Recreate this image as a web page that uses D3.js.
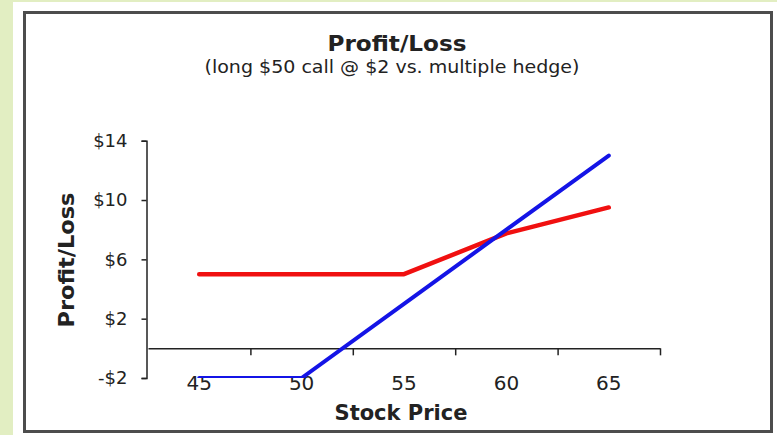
<!DOCTYPE html>
<html>
<head>
<meta charset="utf-8">
<script src="https://cdn.jsdelivr.net/npm/d3@7"></script>
<style>
  html, body { margin: 0; padding: 0; background: #e2eec2; }
  svg { display: block; }
  text { font-family: "DejaVu Sans", sans-serif; fill: #222; }
</style>
</head>
<body>
<svg id="grafica" width="777" height="435"></svg>
<script>
// categorías del eje X (precio de la acción)
const precios   = ["45", "50", "55", "60", "65"];
// long $50 call @ $2
const llamada   = [-2, -2, 3, 8, 13];
// cobertura múltiple
const cobertura = [5, 5, 5, 7.75, 9.5];
const ticksY    = [-2, 2, 6, 10, 14];

const svg = d3.select('#grafica');

// marco blanco con borde
svg.append('rect').attr('x', 13).attr('y', 2).attr('width', 764).attr('height', 433).attr('fill', '#fff');
svg.append('rect')
   .attr('x', 24.5).attr('y', 12.5).attr('width', 747).attr('height', 419)
   .attr('fill', '#fff').attr('stroke', '#4d4d4d').attr('stroke-width', 3);

const izq = 148, der = 660, arriba = 140.7, abajo = 378;

const x = d3.scaleBand().domain(precios).range([izq, der]).padding(0);
const y = d3.scaleLinear().domain([-2, 14]).range([abajo, arriba]);
const xc = d => x(d) + x.bandwidth() / 2;

// titulos
svg.append('text').attr('x', 397).attr('y', 51).attr('text-anchor', 'middle')
   .style('font-size', '21px').style('font-weight', 'bold')
   .attr('textLength', 139).attr('lengthAdjust', 'spacingAndGlyphs')
   .text('Profit/Loss');
svg.append('text').attr('x', 392).attr('y', 73).attr('text-anchor', 'middle')
   .style('font-size', '17px')
   .attr('textLength', 375).attr('lengthAdjust', 'spacingAndGlyphs')
   .text('(long $50 call @ $2 vs. multiple hedge)');

// eje Y
const ejeY = svg.append('g').attr('transform', `translate(${izq - 1.5},0)`)
  .call(d3.axisLeft(y).tickValues(ticksY).tickSize(5).tickPadding(14)
          .tickFormat(d => (d < 0 ? '-$' : '$') + Math.abs(d)));
ejeY.select('.domain').attr('stroke', '#222').attr('stroke-width', 1.5);
ejeY.selectAll('.tick line').attr('stroke', '#222').attr('stroke-width', 1.5);
ejeY.selectAll('text').style('font-size', '18px').attr('fill', '#333')
    .style('font-family', '"DejaVu Sans", sans-serif');

// eje X en cero: marcas en los límites de las categorías
const limites = d3.scaleLinear().domain([0, precios.length]).range([izq, der]);
const ejeX = svg.append('g').attr('transform', `translate(0,${y(0)})`)
  .call(d3.axisBottom(limites).tickValues(d3.range(1, precios.length + 1))
          .tickSize(7).tickSizeOuter(0).tickFormat(''));
ejeX.select('.domain').attr('stroke', '#222').attr('stroke-width', 1.5);
ejeX.selectAll('.tick line').attr('stroke', '#222').attr('stroke-width', 1.5);

// etiquetas de categoría abajo (Excel las pone en la posición baja)
const etiquetas = svg.append('g').attr('transform', `translate(0,${abajo})`)
  .call(d3.axisBottom(x).tickSize(0).tickPadding(-2));
etiquetas.select('.domain').remove();
etiquetas.selectAll('text').style('font-size', '20px').attr('fill', '#333')
    .style('font-family', '"DejaVu Sans", sans-serif');

// titulos de ejes
svg.append('text').attr('x', 401).attr('y', 420).attr('text-anchor', 'middle')
   .style('font-size', '22px').style('font-weight', 'bold')
   .attr('textLength', 133).attr('lengthAdjust', 'spacingAndGlyphs')
   .text('Stock Price');
svg.append('text').attr('transform', 'translate(74,260) rotate(-90)').attr('text-anchor', 'middle')
   .style('font-size', '22px').style('font-weight', 'bold')
   .attr('textLength', 135).attr('lengthAdjust', 'spacingAndGlyphs')
   .text('Profit/Loss');

// lineas recortadas al área de trazado
svg.append('clipPath').attr('id', 'area')
   .append('rect').attr('x', izq).attr('y', arriba - 5).attr('width', der - izq + 5).attr('height', abajo - arriba + 5);

const linea = d3.line().x((d, i) => xc(precios[i])).y(d => y(d));

const series = [
  { valores: cobertura, color: '#f01010', ancho: 4.5 },
  { valores: llamada,   color: '#1414e6', ancho: 4 }
];
svg.append('g').attr('clip-path', 'url(#area)')
  .selectAll('path').data(series).join('path')
  .attr('d', d => linea(d.valores))
  .attr('fill', 'none')
  .attr('stroke', d => d.color)
  .attr('stroke-width', d => d.ancho)
  .attr('stroke-linejoin', 'round')
  .attr('stroke-linecap', 'round');
</script>
</body>
</html>
